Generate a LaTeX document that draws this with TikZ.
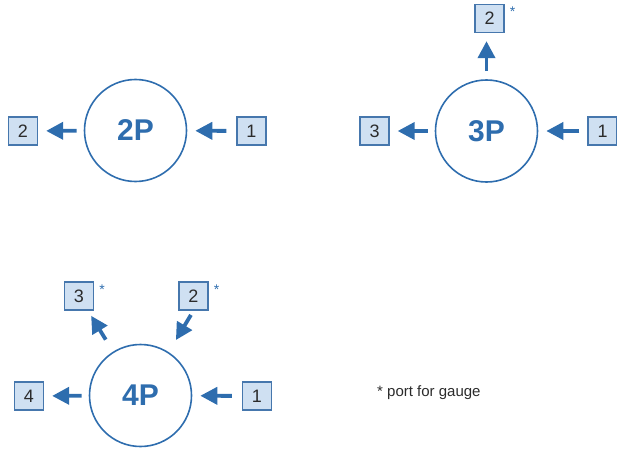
\documentclass[tikz,border=0pt]{standalone}
\usepackage{fontspec}
\setmainfont{Liberation Sans}
\usetikzlibrary{arrows.meta}

\definecolor{portblue}{HTML}{2E6DAE}
\definecolor{boxfill}{HTML}{CFE0F2}
\definecolor{boxline}{HTML}{4677AD}
\definecolor{textgray}{HTML}{2B2B2B}

\tikzset{
  pump/.style={circle, draw=portblue, line width=1.6pt, minimum size=102pt, inner sep=0pt,
    text=portblue, font=\fontsize{30}{32}\selectfont\bfseries},
  portbox/.style={draw=boxline, line width=1.3pt, fill=boxfill, minimum width=29pt,
    minimum height=28pt, inner sep=0pt, text=textgray, font=\fontsize{18}{20}\selectfont},
  flow/.style={draw=portblue, line width=3.8pt, -{Triangle[length=17pt,width=17pt]}},
  gaugemark/.style={text=portblue, inner sep=0pt, font=\fontsize{14}{14}\selectfont}
}

\begin{document}
\begin{tikzpicture}[x=1pt, y=-1pt]
    \useasboundingbox (0,0) rectangle (617,449);
    % 2P
    \node[pump] (c2) at (135.5,130.5) {2P};
    \node[portbox] (b21) at (251.5,131) {1};
    \node[portbox] (b22) at (23,131) {2};
    \draw[flow, shorten <=10pt, shorten >=8pt] (b21) -- (c2);
    \draw[flow, shorten <=7pt, shorten >=8pt] (c2) -- (b22);
    % 3P
    \node[pump] (c3) at (486.5,131) {3P};
    \node[portbox] (b31) at (602.5,131) {1};
    \node[portbox] (b32) at (489.5,18.5) {2};
    \node[portbox] (b33) at (374.5,131) {3};
    \node[gaugemark, anchor=north west] at ([xshift=5pt,yshift=-3pt]b32.north east) {*};
    \draw[flow, shorten <=8pt, shorten >=8pt] (b31) -- (c3);
    \draw[flow, shorten <=8pt, shorten >=8pt] (c3.north) -- (c3.north |- b32.south);
    \draw[flow, shorten <=7pt, shorten >=8pt] (c3) -- (b33);
    % 4P
    \node[pump] (c4) at (140.5,395.5) {4P};
    \node[portbox] (b41) at (257,396) {1};
    \node[portbox] (b42) at (193.5,296) {2};
    \node[portbox] (b43) at (79,296) {3};
    \node[portbox] (b44) at (29,396) {4};
    \node[gaugemark, anchor=north west] at ([xshift=5pt,yshift=-3pt]b42.north east) {*};
    \node[gaugemark, anchor=north west] at ([xshift=5pt,yshift=-3pt]b43.north east) {*};
    \draw[flow, shorten <=10pt, shorten >=8pt] (b41) -- (c4);
    \draw[flow, shorten <=5pt, shorten >=14pt] (b42.south) -- (c4.57);
    \draw[flow, shorten <=14pt, shorten >=6pt] (c4.122) -- (b43);
    \draw[flow, shorten <=7pt, shorten >=8pt] (c4) -- (b44);
    % note
    \node[anchor=west, inner sep=0pt, text=textgray, font=\fontsize{15}{17}\selectfont] (note) at (377,393) {* port for gauge};
\end{tikzpicture}
\end{document}
